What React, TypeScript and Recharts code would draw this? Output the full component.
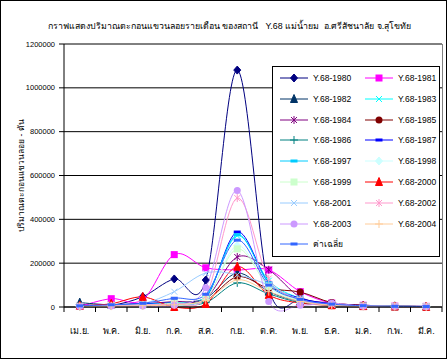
import React from 'react';
import { LineChart, Line, XAxis, YAxis, CartesianGrid, ReferenceLine } from 'recharts';

document.body.style.margin = '0';

const months = ['เม.ย.', 'พ.ค.', 'มิ.ย.', 'ก.ค.', 'ส.ค.', 'ก.ย.', 'ต.ค.', 'พ.ย.', 'ธ.ค.', 'ม.ค.', 'ก.พ.', 'มี.ค.'];
const yTicks = [0, 200000, 400000, 600000, 800000, 1000000, 1200000];

const y1980 = [12000, 8000, 47000, 128000, 123000, 1081000, 87000, 30000, 12000, 5000, 3000, 2000];
const y1981 = [3000, 38000, 33000, 239000, 179000, 169000, 169000, 70000, 18000, 8000, 4000, 3000];
const y1982 = [20000, 10000, 15000, 20000, 40000, 155000, 70000, 25000, 10000, 5000, 3000, 2000];
const y1983 = [5000, 8000, 10000, 20000, 50000, 325000, 120000, 40000, 15000, 7000, 4000, 3000];
const y1984 = [5000, 10000, 15000, 25000, 40000, 228000, 170000, 45000, 18000, 8000, 4000, 3000];
const y1985 = [3000, 8000, 12000, 15000, 30000, 138000, 85000, 68000, 20000, 8000, 4000, 2000];
const y1986 = [2000, 5000, 8000, 10000, 20000, 110000, 60000, 20000, 8000, 4000, 2000, 1000];
const y1987 = [5000, 10000, 15000, 20000, 40000, 342000, 110000, 40000, 15000, 6000, 3000, 2000];
const y1997 = [4000, 8000, 12000, 20000, 45000, 330000, 110000, 35000, 12000, 5000, 3000, 2000];
const y1998 = [3000, 6000, 10000, 15000, 35000, 280000, 90000, 30000, 10000, 5000, 3000, 2000];
const y1999 = [4000, 8000, 10000, 18000, 40000, 265000, 95000, 30000, 10000, 5000, 3000, 2000];
const y2000 = [5000, 15000, 46000, 0, 14000, 184000, 55000, 18000, 8000, 4000, 2000, 1000];
const y2001 = [3000, 5000, 15000, 70000, 155000, 147000, 100000, 30000, 10000, 5000, 3000, 2000];
const y2002 = [3000, 6000, 10000, 15000, 50000, 497000, 130000, 35000, 12000, 5000, 3000, 2000];
const y2003 = [2000, 4000, 5000, 8000, 88000, 531000, 25000, 8000, 18000, 3000, 2000, 1000];
const y2004 = [2000, 4000, 6000, 10000, 30000, 124000, 70000, 25000, 8000, 4000, 2000, 1000];
const average = [5000, 10000, 17000, 40000, 58000, 305000, 100000, 35000, 13000, 6000, 3000, 2000];

type Shape = 'diamond' | 'square' | 'triangle' | 'x' | 'star' | 'circle' | 'plus' | 'dash';

const series: { key: string; name: string; color: string; shape: Shape; values: number[] }[] = [
  { key: 's1980', name: 'Y.68-1980', color: '#000080', shape: 'diamond', values: y1980 },
  { key: 's1981', name: 'Y.68-1981', color: '#FF00FF', shape: 'square', values: y1981 },
  { key: 's1982', name: 'Y.68-1982', color: '#003366', shape: 'triangle', values: y1982 },
  { key: 's1983', name: 'Y.68-1983', color: '#00FFFF', shape: 'x', values: y1983 },
  { key: 's1984', name: 'Y.68-1984', color: '#800080', shape: 'star', values: y1984 },
  { key: 's1985', name: 'Y.68-1985', color: '#800000', shape: 'circle', values: y1985 },
  { key: 's1986', name: 'Y.68-1986', color: '#008080', shape: 'plus', values: y1986 },
  { key: 's1987', name: 'Y.68-1987', color: '#0000FF', shape: 'dash', values: y1987 },
  { key: 's1997', name: 'Y.68-1997', color: '#00CCFF', shape: 'dash', values: y1997 },
  { key: 's1998', name: 'Y.68-1998', color: '#CCFFFF', shape: 'diamond', values: y1998 },
  { key: 's1999', name: 'Y.68-1999', color: '#CCFFCC', shape: 'square', values: y1999 },
  { key: 's2000', name: 'Y.68-2000', color: '#FF0000', shape: 'triangle', values: y2000 },
  { key: 's2001', name: 'Y.68-2001', color: '#99CCFF', shape: 'x', values: y2001 },
  { key: 's2002', name: 'Y.68-2002', color: '#FF99CC', shape: 'star', values: y2002 },
  { key: 's2003', name: 'Y.68-2003', color: '#CC99FF', shape: 'circle', values: y2003 },
  { key: 's2004', name: 'Y.68-2004', color: '#FFCC99', shape: 'plus', values: y2004 },
  { key: 'avg', name: 'ค่าเฉลี่ย', color: '#3366FF', shape: 'dash', values: average },
];

const data = months.map((m, i) => {
  const row: Record<string, any> = { month: m };
  series.forEach((s) => (row[s.key] = s.values[i]));
  return row;
});

const W = 447;
const H = 359;
const X_H = 30;
const M = { top: 44, right: 5, bottom: 52 - X_H, left: 4 };
const Y_W = 60;
const BAND = (W - M.left - M.right - Y_W) / months.length;
const FONT = '"Liberation Sans", Arial, sans-serif';

// Excel style smoothed line (cardinal spline through points)
function excelSmooth(context: any) {
  let pts: number[][] = [];
  return {
    areaStart() {},
    areaEnd() {},
    lineStart() {
      pts = [];
    },
    point(x: number, y: number) {
      pts.push([+x, +y]);
    },
    lineEnd() {
      const n = pts.length;
      if (!n) return;
      context.moveTo(pts[0][0], pts[0][1]);
      const t = 1 / 6;
      for (let i = 0; i < n - 1; i++) {
        const p0 = pts[Math.max(i - 1, 0)];
        const p1 = pts[i];
        const p2 = pts[i + 1];
        const p3 = pts[Math.min(i + 2, n - 1)];
        context.bezierCurveTo(
          p1[0] + (p2[0] - p0[0]) * t,
          p1[1] + (p2[1] - p0[1]) * t,
          p2[0] - (p3[0] - p1[0]) * t,
          p2[1] - (p3[1] - p1[1]) * t,
          p2[0],
          p2[1]
        );
      }
    },
  };
}

function Marker({ shape, color, cx, cy }: { shape: Shape; color: string; cx: number; cy: number }) {
  const s = 3.5;
  switch (shape) {
    case 'diamond':
      return <polygon points={`${cx},${cy - s - 0.5} ${cx + s},${cy} ${cx},${cy + s + 0.5} ${cx - s},${cy}`} fill={color} stroke={color} />;
    case 'square':
      return <rect x={cx - s} y={cy - s} width={s * 2} height={s * 2} fill={color} />;
    case 'triangle':
      return <polygon points={`${cx},${cy - s - 1} ${cx + s},${cy + s} ${cx - s},${cy + s}`} fill={color} stroke={color} />;
    case 'x':
      return (
        <g stroke={color} strokeWidth={1}>
          <line x1={cx - 3} y1={cy - 3} x2={cx + 3} y2={cy + 3} />
          <line x1={cx - 3} y1={cy + 3} x2={cx + 3} y2={cy - 3} />
        </g>
      );
    case 'star':
      return (
        <g stroke={color} strokeWidth={1}>
          <line x1={cx - 3} y1={cy - 3} x2={cx + 3} y2={cy + 3} />
          <line x1={cx - 3} y1={cy + 3} x2={cx + 3} y2={cy - 3} />
          <line x1={cx} y1={cy - 4} x2={cx} y2={cy + 4} />
        </g>
      );
    case 'circle':
      return <circle cx={cx} cy={cy} r={s} fill={color} />;
    case 'plus':
      return (
        <g stroke={color} strokeWidth={1}>
          <line x1={cx} y1={cy - 4} x2={cx} y2={cy + 4} />
          <line x1={cx - 4} y1={cy} x2={cx + 4} y2={cy} />
        </g>
      );
    case 'dash':
    default:
      return <rect x={cx - 3.5} y={cy - 1.5} width={7} height={3} fill={color} />;
  }
}

const makeDot = (shape: Shape, color: string) => (props: any) => {
  const { cx, cy, index } = props;
  if (cx == null || cy == null) return <g key={index} />;
  return (
    <g key={`d-${index}`}>
      <Marker shape={shape} color={color} cx={cx} cy={cy} />
    </g>
  );
};

const MonthTick = (props: any) => {
  const { x, y, payload, index } = props;
  return (
    <g>
      <line x1={x - BAND / 2} y1={y} x2={x - BAND / 2} y2={y + 5} stroke="#000" />
      {index === months.length - 1 && <line x1={x + BAND / 2} y1={y} x2={x + BAND / 2} y2={y + 5} stroke="#000" />}
      <text x={x} y={y + 27} textAnchor="middle" fontSize={9} fontFamily={FONT} fill="#000">
        {payload.value}
      </text>
    </g>
  );
};

function LegendBox() {
  return (
    <div
      style={{
        position: 'absolute',
        left: 271,
        top: 65,
        width: 168,
        height: 191,
        boxSizing: 'border-box',
        border: '1px solid #000',
        background: '#fff',
        fontFamily: FONT,
        fontSize: 8.5,
      }}
    >
      {series.map((s, i) => {
        const col = i % 2;
        const row = Math.floor(i / 2);
        return (
          <div
            key={s.key}
            style={{ position: 'absolute', left: col === 0 ? 6 : 91, top: 3 + row * 20.8, height: 16, display: 'flex', alignItems: 'center' }}
          >
            <svg width={30} height={16}>
              <line x1={1} y1={8} x2={29} y2={8} stroke={s.color} strokeWidth={1} />
              <Marker shape={s.shape} color={s.color} cx={15} cy={8} />
            </svg>
            <span style={{ marginLeft: 4, whiteSpace: 'nowrap' }}>{s.name}</span>
          </div>
        );
      })}
    </div>
  );
}

export default function App() {
  return (
    <div style={{ position: 'relative', width: W, height: H, boxSizing: 'border-box', border: '1px solid #000', background: '#fff', overflow: 'hidden' }}>
      <div
        style={{
          position: 'absolute',
          top: 18,
          left: 10,
          width: W - 10,
          textAlign: 'center',
          fontFamily: FONT,
          fontSize: 8.8,
          whiteSpace: 'nowrap',
        }}
      >
        กราฟแสดงปริมาณตะกอนแขวนลอยรายเดือน ของสถานี &nbsp; Y.68 แม่น้ำยม &nbsp;อ.ศรีสัชนาลัย จ.สุโขทัย
      </div>
      <div style={{ position: 'absolute', left: -1, top: -1 }}>
        <LineChart width={W} height={H} data={data} margin={M}>
          <CartesianGrid horizontal vertical={false} stroke="#000" strokeWidth={1} />
          <ReferenceLine y={1200000} stroke="#808080" />
          <XAxis
            dataKey="month"
            scale="band"
            height={X_H}
            tick={<MonthTick />}
            tickLine={false}
            tickSize={0}
            tickMargin={0}
            axisLine={{ stroke: '#000' }}
            interval={0}
          />
          <YAxis
            width={Y_W}
            domain={[0, 1200000]}
            ticks={yTicks}
            interval={0}
            tickSize={5}
            tickMargin={4}
            axisLine={{ stroke: '#000' }}
            tickLine={{ stroke: '#000' }}
            tick={{ fontSize: 7.5, fontFamily: FONT, fill: '#000' }}
            label={{
              value: 'ปริมาณตะกอนแขวนลอย - ตัน',
              angle: -90,
              position: 'insideLeft',
              offset: 17,
              style: { fontSize: 8.5, fontFamily: FONT, fill: '#000', textAnchor: 'middle' },
            }}
          />
          {series.map((s) => (
            <Line
              key={s.key}
              dataKey={s.key}
              name={s.name}
              type={excelSmooth as any}
              stroke={s.color}
              strokeWidth={1}
              dot={makeDot(s.shape, s.color)}
              activeDot={false}
              isAnimationActive={false}
            />
          ))}
        </LineChart>
      </div>
      <div
        style={{
          position: 'absolute',
          left: 64 - 1,
          top: 44 - 1,
          width: W - 64 - 5,
          height: 263,
          borderRight: '1px solid #808080',
          pointerEvents: 'none',
        }}
      />
      <LegendBox />
    </div>
  );
}
